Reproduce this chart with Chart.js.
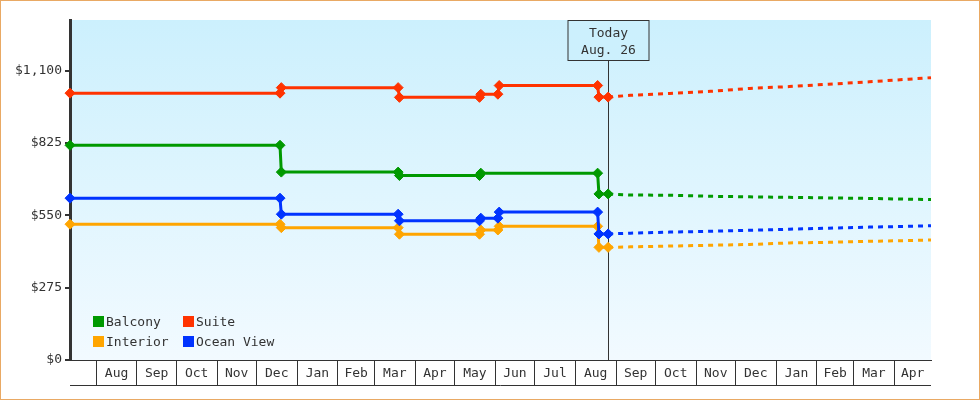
<!DOCTYPE html>
<html>
<head>
<meta charset="utf-8">
<script src="https://cdn.jsdelivr.net/npm/chart.js@4.4.1/dist/chart.umd.min.js"></script>
<style>
  html, body { margin: 0; padding: 0; background: #fff; }
  #wrap { width: 980px; height: 400px; box-sizing: border-box; border: 1px solid #e9a964; background: #fff; }
  canvas { display: block; }
</style>
</head>
<body>
<div id="wrap"><canvas id="c" width="978" height="398"></canvas></div>
<script>
// ---------- data ----------
const historyDates = ['2021-07-12','2021-12-19','2021-12-20','2022-03-19','2022-03-20','2022-05-20','2022-05-21','2022-06-03','2022-06-04','2022-08-18','2022-08-19','2022-08-26'];
const balconyHist   = [816, 816, 714, 714, 701, 701, 710, null, null, 710, 631, 631];
const suiteHist     = [1014, 1014, 1035, 1035, 998, 998, 1010, 1010, 1043, 1043, 999, 999];
const oceanViewHist = [615, 615, 554, 554, 529, 529, 539, 539, 562, 562, 479, 479];
const interiorHist  = [516, 516, 503, 503, 478, 478, 494, 494, 508, 508, 428, 428];

const forecastDates = ['2022-09-12','2022-10-12','2022-11-12','2022-12-12','2023-01-11','2023-02-10','2023-03-13','2023-04-12','2023-04-29'];
const balconyForecast   = [627, 626, 622, 620, 618, 616, 614, 611, 610];
const suiteForecast     = [1006, 1013, 1021, 1032, 1039, 1048, 1057, 1067, 1073];
const oceanViewForecast = [482, 486, 489, 493, 497, 501, 505, 508, 510];
const interiorForecast  = [430, 433, 436, 439, 445, 447, 451, 454, 456];

const seriesNames  = ['Balcony', 'Suite', 'Interior', 'Ocean View'];
const seriesColors = ['#009900', '#ff3300', '#ffa500', '#0033ff'];

const monthStarts = ['2021-08-01','2021-09-01','2021-10-01','2021-11-01','2021-12-01','2022-01-01','2022-02-01','2022-03-01','2022-04-01','2022-05-01','2022-06-01','2022-07-01','2022-08-01','2022-09-01','2022-10-01','2022-11-01','2022-12-01','2023-01-01','2023-02-01','2023-03-01','2023-04-01'];
const monthLabels = ['Aug','Sep','Oct','Nov','Dec','Jan','Feb','Mar','Apr','May','Jun','Jul','Aug','Sep','Oct','Nov','Dec','Jan','Feb','Mar','Apr'];
const axisStart = '2021-07-12';
const axisEnd   = '2023-04-29';
const todayDate = '2022-08-26';
const todayText = ['Today', 'Aug. 26'];
const yTicks = [0, 275, 550, 825, 1100];
const yMax = 1292;

// ---------- helpers ----------
const D = s => Date.UTC(+s.slice(0,4), +s.slice(5,7) - 1, +s.slice(8,10)) / 86400000;
const TODAY = D(todayDate);
const FONT = "'DejaVu Sans Mono', 'Liberation Mono', monospace";
const INK = '#333333';

function build(hist, fc) {
  const pts = historyDates.map((d, i) => ({ x: D(d), y: hist[i] }));
  return pts.concat(forecastDates.map((d, i) => ({ x: D(d), y: fc[i] })));
}
const seriesData = {
  'Balcony': build(balconyHist, balconyForecast),
  'Suite': build(suiteHist, suiteForecast),
  'Interior': build(interiorHist, interiorForecast),
  'Ocean View': build(oceanViewHist, oceanViewForecast)
};
const drawOrder = ['Balcony', 'Suite', 'Ocean View', 'Interior'];

const datasets = drawOrder.map(name => {
  const col = seriesColors[seriesNames.indexOf(name)];
  return {
    label: name,
    data: seriesData[name],
    borderColor: col,
    backgroundColor: col,
    borderWidth: 3,
    tension: 0,
    spanGaps: true,
    clip: false,
    pointStyle: 'rectRot',
    pointRadius: ctx => (ctx.raw && ctx.raw.x > TODAY) ? 0 : 5,
    pointBorderWidth: 1,
    pointBackgroundColor: col,
    pointBorderColor: col,
    segment: {
      borderDash: ctx => ctx.p0.parsed.x >= TODAY ? [5, 5] : undefined
    }
  };
});

// ---------- plugins ----------
const bgPlugin = {
  id: 'bg',
  beforeDraw(chart) {
    const { ctx, chartArea: a } = chart;
    const g = ctx.createLinearGradient(0, a.top, 0, a.bottom);
    g.addColorStop(0, '#ccf0fd');
    g.addColorStop(1, '#f2faff');
    ctx.save();
    ctx.fillStyle = g;
    ctx.fillRect(a.left, a.top, a.right - a.left, a.bottom - a.top);
    ctx.restore();
  }
};

const todayPlugin = {
  id: 'today',
  beforeDatasetsDraw(chart) {
    const { ctx, chartArea: a, scales } = chart;
    const x = Math.round(scales.x.getPixelForValue(TODAY)) + 0.5;
    const w = 81, h = 40, top = a.top + 0.5;
    ctx.save();
    ctx.strokeStyle = INK;
    ctx.lineWidth = 1;
    ctx.fillStyle = '#ccf0fd';
    ctx.fillRect(x - w / 2, top, w, h);
    ctx.strokeRect(x - w / 2, top, w, h);
    ctx.beginPath();
    ctx.moveTo(x, top + h);
    ctx.lineTo(x, a.bottom);
    ctx.stroke();
    ctx.fillStyle = INK;
    ctx.font = '13px ' + FONT;
    ctx.textAlign = 'center';
    ctx.textBaseline = 'middle';
    ctx.fillText(todayText[0], x, a.top + 13.5);
    ctx.fillText(todayText[1], x, a.top + 31);
    ctx.restore();
  }
};

const monthPlugin = {
  id: 'months',
  afterDraw(chart) {
    const { ctx, chartArea: a, scales } = chart;
    const xs = scales.x;
    ctx.save();
    ctx.fillStyle = INK;
    ctx.font = '13px ' + FONT;
    ctx.textAlign = 'center';
    ctx.textBaseline = 'middle';
    monthStarts.forEach((s, i) => {
      const x0 = xs.getPixelForValue(D(s));
      const x1 = xs.getPixelForValue(i + 1 < monthStarts.length ? D(monthStarts[i + 1]) : D(axisEnd));
      ctx.fillText(monthLabels[i], (x0 + x1) / 2, a.bottom + 14);
    });
    ctx.strokeStyle = INK;
    ctx.lineWidth = 1;
    ctx.beginPath();
    ctx.moveTo(a.left, a.bottom + 25.5);
    ctx.lineTo(a.right, a.bottom + 25.5);
    ctx.stroke();
    ctx.restore();
  }
};

const legendPlugin = {
  id: 'customLegend',
  afterDraw(chart) {
    const { ctx, chartArea: a } = chart;
    ctx.save();
    ctx.font = '13px ' + FONT;
    ctx.textBaseline = 'middle';
    ctx.textAlign = 'left';
    seriesNames.forEach((name, i) => {
      const col = i % 2, row = Math.floor(i / 2);
      const x = a.left + 23 + col * 90;
      const y = a.bottom - 44 + row * 20;
      ctx.fillStyle = seriesColors[i];
      ctx.fillRect(x, y, 11, 11);
      ctx.fillStyle = INK;
      ctx.fillText(name, x + 13, y + 6.5);
    });
    ctx.restore();
  }
};

// ---------- chart ----------
new Chart(document.getElementById('c'), {
  type: 'line',
  data: { datasets },
  options: {
    responsive: false,
    animation: false,
    events: [],
    layout: { padding: { left: 0, top: 19, right: 48, bottom: 0 } },
    plugins: { legend: { display: false }, tooltip: { enabled: false } },
    scales: {
      x: {
        type: 'linear',
        min: D(axisStart),
        max: D(axisEnd),
        afterBuildTicks: s => { s.ticks = monthStarts.map(m => ({ value: D(m) })); },
        afterFit: s => { s.height = 39; },
        ticks: { display: false },
        grid: { drawOnChartArea: false, drawTicks: true, tickLength: 25, color: INK, lineWidth: 1 },
        border: { display: true, color: INK, width: 1 }
      },
      y: {
        type: 'linear',
        min: 0,
        max: yMax,
        afterBuildTicks: s => { s.ticks = yTicks.map(v => ({ value: v })); },
        afterFit: s => { s.width = 69; },
        ticks: {
          color: INK,
          padding: 3,
          autoSkip: false,
          font: { family: FONT, size: 13 },
          callback: v => '$' + String(v).replace(/\B(?=(\d{3})+(?!\d))/g, ',')
        },
        grid: { drawOnChartArea: false, drawTicks: true, tickLength: 5, color: INK, lineWidth: 2 },
        border: { display: true, color: INK, width: 3 }
      }
    }
  },
  plugins: [bgPlugin, todayPlugin, monthPlugin, legendPlugin]
});
</script>
</body>
</html>
